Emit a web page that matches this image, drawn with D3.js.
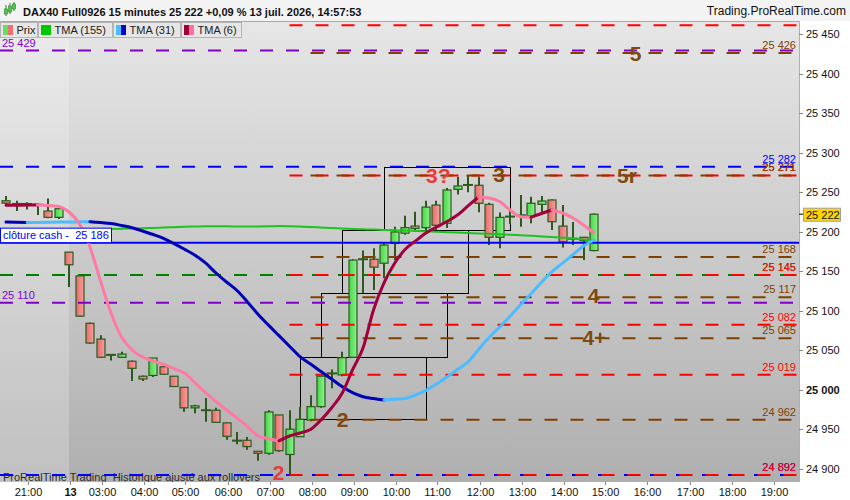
<!DOCTYPE html>
<html><head><meta charset="utf-8">
<script src="https://cdn.jsdelivr.net/npm/d3@7"></script>
<style>
body{margin:0;background:#fff;}
svg{display:block;font-family:"Liberation Sans",Arial,sans-serif;}
.pre{white-space:pre;}
</style>
</head><body>
<svg id="c" width="850" height="500"></svg>
<script>
// ---------------- DATA ----------------
const opens  = [25239,25235,25235,25234,25226,25218,25174,25144,25084,25064,25044,25041,25036,25017,25018,25029,25017,25003,24977,24974,24974,24958,24935.5,24936,24922,24919.5,24968,24918,24940.5,24961.6,24978.5,25020.6,25018.6,25041,25165,25165,25160,25185,25198,25207,25205,25233.6,25210.5,25253.5,25259,25258.6,25234.5,25192.8,25219,25220.6,25219.7,25234.5,25240,25207,25191,25192.8,25176];
const highs  = [25245,25239,25237,25236,25242,25231,25174,25145,25085,25069,25045,25048,25037,25018,25040,25030,25017,25003,24981,24989.5,24977,24958,24946.4,24940,24922,24974,24968,24974,24978.5,24993,25017,25025.6,25048,25165,25176,25179,25185.6,25206,25220,25225,25239,25239,25255,25269.5,25271.6,25269.5,25236.6,25224,25230,25246.3,25244,25245,25241,25233.6,25212,25193,25223];
const lows   = [25232,25226,25228,25221,25217,25216,25130,25092,25058,25040,25037,25040,25011,25011,25016,25019,25004,24972,24970,24959.5,24958,24936.7,24931,24924,24910,24917.7,24921.5,24892,24940,24960,24977,25001.7,25017,25040,25122,25126,25141,25164,25196,25202,25202,25202,25204.5,25247,25249.7,25224.4,25183,25179,25209.6,25206,25210.5,25223.5,25202,25180,25183,25164,25175];
const closes = [25236,25235,25235,25234,25218,25229,25158,25093,25059,25041,25044,25045,25027,25013.5,25040,25019.5,25004,24977,24979.5,24974,24958.7,24941,24935.5,24928,24919.5,24971.8,24922.8,24950,24962.5,24978.5,25017,25020.6,25040.5,25164,25165,25155,25183,25199.5,25205,25204,25231,25208,25252.6,25257.7,25259,25235.8,25192.8,25218,25219,25220.6,25235.8,25238.7,25212.5,25187,25191,25188.5,25222];

const tma155 = [25202.7,25202.7,25202.8,25202.8,25202.9,25202.9,25203.0,25203.0,25203.2,25203.2,25203.3,25203.5,25203.9,25204.3,25204.6,25205.1,25205.6,25206.1,25206.4,25206.7,25206.8,25206.7,25206.4,25206.3,25206.4,25206.7,25207.1,25206.8,25206.3,25205.8,25205.2,25204.6,25203.9,25203.3,25202.9,25202.5,25202.0,25201.6,25201.3,25200.8,25200.3,25199.7,25199.2,25198.7,25198.2,25197.7,25197.2,25196.7,25196.1,25195.4,25194.7,25193.9,25193.2,25192.3,25191.3,25190.0,25188.7];
const tma31  = [25212.0,25211.8,25211.5,25211.6,25211.8,25212.0,25212.1,25212.4,25212.5,25211.5,25210.2,25207.7,25204.8,25200.8,25196.3,25191.3,25184.7,25177.6,25170.1,25160.3,25147.6,25136.2,25125.5,25111.0,25095.4,25081.6,25068.3,25055.0,25041.7,25032.5,25022.9,25013.5,25004.0,24996.2,24991.1,24988.7,24986.9,24987.8,24989.0,24993.3,24999.2,25007.2,25016.0,25025.4,25035.0,25050.8,25066.0,25079.0,25092.7,25107.4,25121.4,25136.0,25149.3,25160.0,25171.0,25181.7,25189.4];
const tma6   = [25233.3,25233.4,25233.5,25233.7,25233.0,25231.8,25224.8,25209.6,25180.5,25137.5,25097.0,25066.6,25050.2,25041.3,25036.3,25031.9,25026.6,25021.1,25008.5,24996.1,24985.0,24974.3,24964.2,24953.2,24941.4,24938.0,24935.3,24941.4,24945.2,24949.6,24961.6,24976.8,24995.2,25024.9,25052.7,25100.8,25135.0,25159.6,25177.3,25188.1,25198.2,25205.8,25212.8,25221.0,25232.4,25243.8,25242.5,25238.1,25227.3,25218.8,25218.1,25222.9,25227.3,25223.5,25217.2,25208.4,25198.2];

const timeTickIdx    = [2,6,9,13,17,21,25,29,33,37,41,45,49,53,57,61,65,69,73];
const timeTickLabels = ["21:00","13","03:00","04:00","05:00","06:00","07:00","08:00","09:00","10:00","11:00","12:00","13:00","14:00","15:00","16:00","17:00","18:00","19:00"];
const priceTicks = [24900,24950,25000,25050,25100,25150,25200,25250,25300,25350,25400,25450];

const lastPrice = 25222;
const cashClose = 25186;

// level lines: value, kind, first candle index (-1 = from chart start)
const levelValues = [25429,25110,25282,25145,24892,25461,25271,25145,25082,25019,24892,25426,25271,25168,25117,25065,24962];
const levelKinds  = ["purple","purple","blue","green","blue","red","red","red","red","red","red","brown","brown","brown","brown","brown","brown"];
const levelFrom   = [-1,-1,-1,-1,-1,27,27,27,27,27,27,29,29,29,29,29,29];
const levelLabelSide = ["left","left","right","right","right","none","right","right","right","right","right","right","right","right","right","right","right"];

// rectangles: [fromIdx, toIdx, low, high]
const boxFrom = [28,30,32,36];
const boxTo   = [40,42,44,48];
const boxLow  = [24962,25041,25122,25202];
const boxHigh = [25041,25122,25202,25282];

// annotations
const noteTexts = ["2","2","3?","3","5","5r","4","4+"];
const noteKinds = ["red","brown","red","brown","brown","brown","brown","brown"];
const noteIdx   = [25.4,31.5,40,46.4,59.4,58.2,55.4,54.9];
const noteVal   = [24886,24953,25261,25263,25416,25261.5,25110,25056.5];

// ---------------- STYLES ----------------
const W = 850, H = 500;
const plot = {l:0, r:799, t:21, b:482};
const colors = {red:"#ff0000", blue:"#0000ff", purple:"#8000c8", brown:"#804000", green:"#008000"};
const noteColors = {red:"#e83c3c", brown:"#7f4a12"};
const FONT = "11px";

const svg = d3.select("#c");
const x = d3.scaleLinear().domain([0,56]).range([6,594]);
const y = d3.scaleLinear().domain([24900,25450]).range([468.7,34]);

const defs = svg.append("defs");
const bg = defs.append("linearGradient").attr("id","bg").attr("x1",0).attr("y1",0).attr("x2",0).attr("y2",1);
bg.append("stop").attr("offset","0%").attr("stop-color","#e6e6e6");
bg.append("stop").attr("offset","100%").attr("stop-color","#afafaf");
const gUp = defs.append("linearGradient").attr("id","up").attr("x1",0).attr("x2",1);
gUp.append("stop").attr("offset","0%").attr("stop-color","#45d845");
gUp.append("stop").attr("offset","100%").attr("stop-color","#8ef08e");
const gDn = defs.append("linearGradient").attr("id","dn").attr("x1",0).attr("x2",1);
gDn.append("stop").attr("offset","0%").attr("stop-color","#e86a6a");
gDn.append("stop").attr("offset","100%").attr("stop-color","#f6a0a0");
defs.append("clipPath").attr("id","clip").append("rect")
  .attr("x",plot.l).attr("y",plot.t).attr("width",plot.r-plot.l).attr("height",plot.b-plot.t);

// background
svg.append("rect").attr("width",W).attr("height",H).attr("fill","#ffffff");
svg.append("rect").attr("x",plot.l).attr("y",plot.t).attr("width",plot.r-plot.l).attr("height",plot.b-plot.t).attr("fill","url(#bg)");
// previous session lighter
svg.append("rect").attr("x",plot.l).attr("y",plot.t).attr("width",x(6)-plot.l).attr("height",plot.b-plot.t)
  .attr("fill","#ffffff").attr("opacity",0.22);

const g = svg.append("g").attr("clip-path","url(#clip)");

// bottom-left watermark text
g.append("text").attr("class","pre").attr("x",3).attr("y",y(24886)+1).attr("font-size",FONT).attr("fill","#2a2a2a")
  .text("ProRealTime Trading  Historique ajusté aux rollovers");

// boxes
boxFrom.forEach((f,i)=>{
  g.append("rect").attr("x",Math.round(x(f))+0.5).attr("y",Math.round(y(boxHigh[i]))+0.5)
    .attr("width",Math.round(x(boxTo[i])-x(f))).attr("height",Math.round(y(boxLow[i])-y(boxHigh[i])))
    .attr("fill","none").attr("stroke","#000").attr("stroke-width",1);
});

// candles
const wickCol = "#2b5a1c";
opens.forEach((o,i)=>{
  const c = closes[i], cx = Math.round(x(i));
  g.append("line").attr("x1",cx).attr("x2",cx).attr("y1",y(highs[i])).attr("y2",y(lows[i]))
    .attr("stroke",wickCol).attr("stroke-width",2);
  const top = y(Math.max(o,c)), bot = y(Math.min(o,c));
  if (Math.abs(o-c) < 0.8) {
    g.append("line").attr("x1",cx-5).attr("x2",cx+5).attr("y1",top).attr("y2",top)
      .attr("stroke",wickCol).attr("stroke-width",2);
  } else {
    g.append("rect").attr("x",cx-4).attr("y",top).attr("width",8).attr("height",Math.max(bot-top,1.5))
      .attr("fill", c>o ? "url(#up)" : "url(#dn)").attr("stroke",wickCol).attr("stroke-width",1.2);
  }
});

// level lines
levelValues.forEach((v,i)=>{
  const x0 = levelFrom[i] < 0 ? plot.l : x(levelFrom[i]);
  g.append("line").attr("x1",x0).attr("x2",plot.r).attr("y1",y(v)).attr("y2",y(v))
    .attr("stroke",colors[levelKinds[i]]).attr("stroke-width",2).attr("stroke-dasharray","13,13");
});
// cash close solid line
g.append("line").attr("x1",plot.l).attr("x2",plot.r).attr("y1",y(cashClose)).attr("y2",y(cashClose))
  .attr("stroke","#0000ff").attr("stroke-width",2);

// moving averages
function drawMA(vals, upCol, dnCol, width){
  const line = d3.line().x(i=>x(i)).y(i=>y(vals[i])).curve(d3.curveMonotoneX);
  const runs = []; let cur = null;
  for (let i=1;i<vals.length;i++){
    const col = vals[i] >= vals[i-1] ? upCol : dnCol;
    if (!cur || cur.col !== col){ cur = {col, pts:[i-1]}; runs.push(cur); }
    cur.pts.push(i);
  }
  runs.forEach(r=>{
    g.append("path").attr("d",line(r.pts)).attr("fill","none").attr("stroke",r.col)
      .attr("stroke-width",width).attr("stroke-linecap","round").attr("stroke-linejoin","round");
  });
}
drawMA(tma155, "#1ec41e", "#1ec41e", 2);
drawMA(tma31, "#4bbcff", "#0000b4", 3);
drawMA(tma6, "#a0003c", "#ff7aa2", 3);

// level labels
const fmt = v => { const r = Math.round(v); return Math.floor(r/1000) + " " + String(r%1000).padStart(3,"0"); };
levelValues.forEach((v,i)=>{
  const side = levelLabelSide[i];
  if (side === "none") return;
  const t = g.append("text").attr("y",y(v)-4).attr("font-size",FONT).attr("fill",colors[levelKinds[i]]).text(fmt(v));
  if (side === "left") t.attr("x",2); else t.attr("x",796).attr("text-anchor","end");
});
// cash close label box
g.append("rect").attr("x",0.5).attr("y",y(cashClose)-14.5).attr("width",111).attr("height",14.5)
  .attr("fill","#fff").attr("stroke","#0000ff").attr("stroke-width",1);
g.append("text").attr("class","pre").attr("x",3).attr("y",y(cashClose)-4).attr("font-size",FONT).attr("fill","#0000ff")
  .text("clôture cash -  " + fmt(cashClose));

// annotations
noteTexts.forEach((t,i)=>{
  g.append("text").attr("x",x(noteIdx[i])).attr("y",y(noteVal[i])).attr("font-size","21px").attr("font-weight","bold")
    .attr("fill",noteColors[noteKinds[i]]).text(t);
});

// plot top border
svg.append("line").attr("x1",0).attr("x2",plot.r).attr("y1",plot.t+0.5).attr("y2",plot.t+0.5).attr("stroke","#a8a8a8");

// header
svg.append("rect").attr("x",0).attr("y",0).attr("width",W).attr("height",plot.t).attr("fill","#f3f3f3");
const icon = svg.append("g");
[[6,9,14,5,16],[10,6,12,3,14],[14,4,9,2,11]].forEach(d=>{
  icon.append("line").attr("x1",d[0]).attr("x2",d[0]).attr("y1",d[3]).attr("y2",d[4]).attr("stroke","#2e7d2e").attr("stroke-width",1);
  icon.append("rect").attr("x",d[0]-1.5).attr("y",d[1]).attr("width",3).attr("height",d[2]-d[1]).attr("fill","#4ccc4c").attr("stroke","#2e7d2e").attr("stroke-width",0.6);
});
svg.append("text").attr("x",23).attr("y",15.5).attr("font-size","11px").attr("font-weight","bold").attr("fill","#111")
  .text("DAX40 Full0926 15 minutes 25 222 +0,09 % 13 juil. 2026, 14:57:53");
svg.append("text").attr("x",846).attr("y",15).attr("text-anchor","end").attr("font-size","12px").attr("fill","#111")
  .text("Trading.ProRealTime.com");

// legend
const legNames = ["Prix","TMA (155)","TMA (31)","TMA (6)"];
const legSw = [["#5ee35e","#f07070"],["#00c800","#00c800"],["#4bbcff","#0000c8"],["#a0003c","#ff6f9f"]];
const legW = [37,74,67,60];
let lx = 0.5;
legNames.forEach((n,i)=>{
  const lg = svg.append("g");
  lg.append("rect").attr("x",lx).attr("y",22.5).attr("width",legW[i]).attr("height",15).attr("fill","#e6e6e6").attr("stroke","#b4b4b4");
  lg.append("rect").attr("x",lx+2.5).attr("y",25).attr("width",5).attr("height",10).attr("fill",legSw[i][0]);
  lg.append("rect").attr("x",lx+7.5).attr("y",25).attr("width",5).attr("height",10).attr("fill",legSw[i][1]);
  lg.append("text").attr("x",lx+16).attr("y",34).attr("font-size",FONT).attr("fill","#222").text(n);
  lx += legW[i] + 1;
});

// right axis
svg.append("line").attr("x1",plot.r+0.5).attr("x2",plot.r+0.5).attr("y1",plot.t).attr("y2",plot.b).attr("stroke","#b0b0b0");
priceTicks.forEach(v=>{
  svg.append("line").attr("x1",plot.r).attr("x2",plot.r+4).attr("y1",Math.round(y(v))+0.5).attr("y2",Math.round(y(v))+0.5).attr("stroke","#888");
  svg.append("text").attr("x",806).attr("y",y(v)+4).attr("font-size",FONT)
    .attr("font-weight", v===25000 ? "bold" : "normal").attr("fill","#111").text(fmt(v));
});
// current price badge
svg.append("line").attr("x1",plot.r).attr("x2",plot.r+4).attr("y1",y(lastPrice)).attr("y2",y(lastPrice)).attr("stroke","#000");
svg.append("rect").attr("x",803.5).attr("y",y(lastPrice)-6).attr("width",37).attr("height",13)
  .attr("fill","#ffd400").attr("stroke","#a0a0a0");
svg.append("text").attr("x",806).attr("y",y(lastPrice)+4.5).attr("font-size",FONT).attr("fill","#111").text(fmt(lastPrice));

// bottom axis
timeTickIdx.forEach((t,i)=>{
  const tx = Math.round(x(t))+1.5;
  svg.append("line").attr("x1",tx).attr("x2",tx).attr("y1",plot.b).attr("y2",plot.b+3).attr("stroke","#888");
  svg.append("text").attr("x",tx).attr("y",496).attr("text-anchor","middle").attr("font-size",FONT)
    .attr("font-weight", timeTickLabels[i]==="13" ? "bold" : "normal").attr("fill","#111").text(timeTickLabels[i]);
});
</script>
</body></html>
